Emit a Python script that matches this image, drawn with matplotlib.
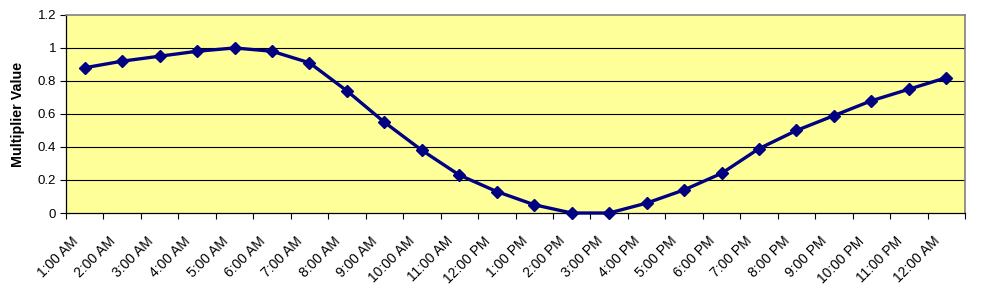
import numpy as np
import matplotlib
matplotlib.use("Agg")
import matplotlib.pyplot as plt

hours = ["1:00 AM", "2:00 AM", "3:00 AM", "4:00 AM", "5:00 AM", "6:00 AM", "7:00 AM", "8:00 AM",
         "9:00 AM", "10:00 AM", "11:00 AM", "12:00 PM", "1:00 PM", "2:00 PM", "3:00 PM", "4:00 PM",
         "5:00 PM", "6:00 PM", "7:00 PM", "8:00 PM", "9:00 PM", "10:00 PM", "11:00 PM", "12:00 AM"]
multiplier = [0.88, 0.92, 0.95, 0.98, 1.00, 0.98, 0.91, 0.74, 0.55, 0.38, 0.23, 0.13,
              0.05, 0.00, 0.00, 0.06, 0.14, 0.24, 0.39, 0.50, 0.59, 0.68, 0.75, 0.82]
y_ticks = [0, 0.2, 0.4, 0.6, 0.8, 1, 1.2]

plt.rcParams['font.family'] = ['Liberation Sans', 'DejaVu Sans']

fig = plt.figure(figsize=(9.82, 2.93), dpi=100)
ax = fig.add_axes([0.0672, 0.273, 0.9155, 0.676])
ax.set_facecolor("#FFFF99")

x = np.arange(len(hours)) + 0.5
for v in y_ticks[1:-1]:
    ax.axhline(v, color="black", lw=0.8, zorder=1)
ax.plot(x, multiplier, color="#000080", lw=2.4, marker="D", ms=6.5, zorder=3, clip_on=False)

ax.set_xlim(0, len(hours))
ax.set_ylim(0, 1.2)
ax.set_yticks(y_ticks)
ax.set_yticklabels(["0", "0.2", "0.4", "0.6", "0.8", "1", "1.2"], fontsize=9.5)
ax.set_xticks(np.arange(len(hours) + 1), minor=False)
ax.set_xticklabels([])
# labels sit a bit left of the point, like Excel does
ax.set_xticks(x - 0.37, minor=True)
ax.set_xticklabels(hours, minor=True, rotation=45, ha="right", rotation_mode="anchor", fontsize=10)
ax.tick_params(axis="x", which="minor", length=0, pad=15)
ax.tick_params(axis="x", which="major", length=4, width=0.8, direction="out")
ax.tick_params(axis="y", length=4, width=0.8, direction="out", pad=3)
ax.set_ylabel("Multiplier Value", fontsize=10.3, fontweight="bold", labelpad=9)

for side in ["top", "right"]:
    ax.spines[side].set_color("#808080")
    ax.spines[side].set_linewidth(1.2)
for side in ["left", "bottom"]:
    ax.spines[side].set_color("black")
    ax.spines[side].set_linewidth(0.9)

fig.savefig("out.png", dpi=100)
